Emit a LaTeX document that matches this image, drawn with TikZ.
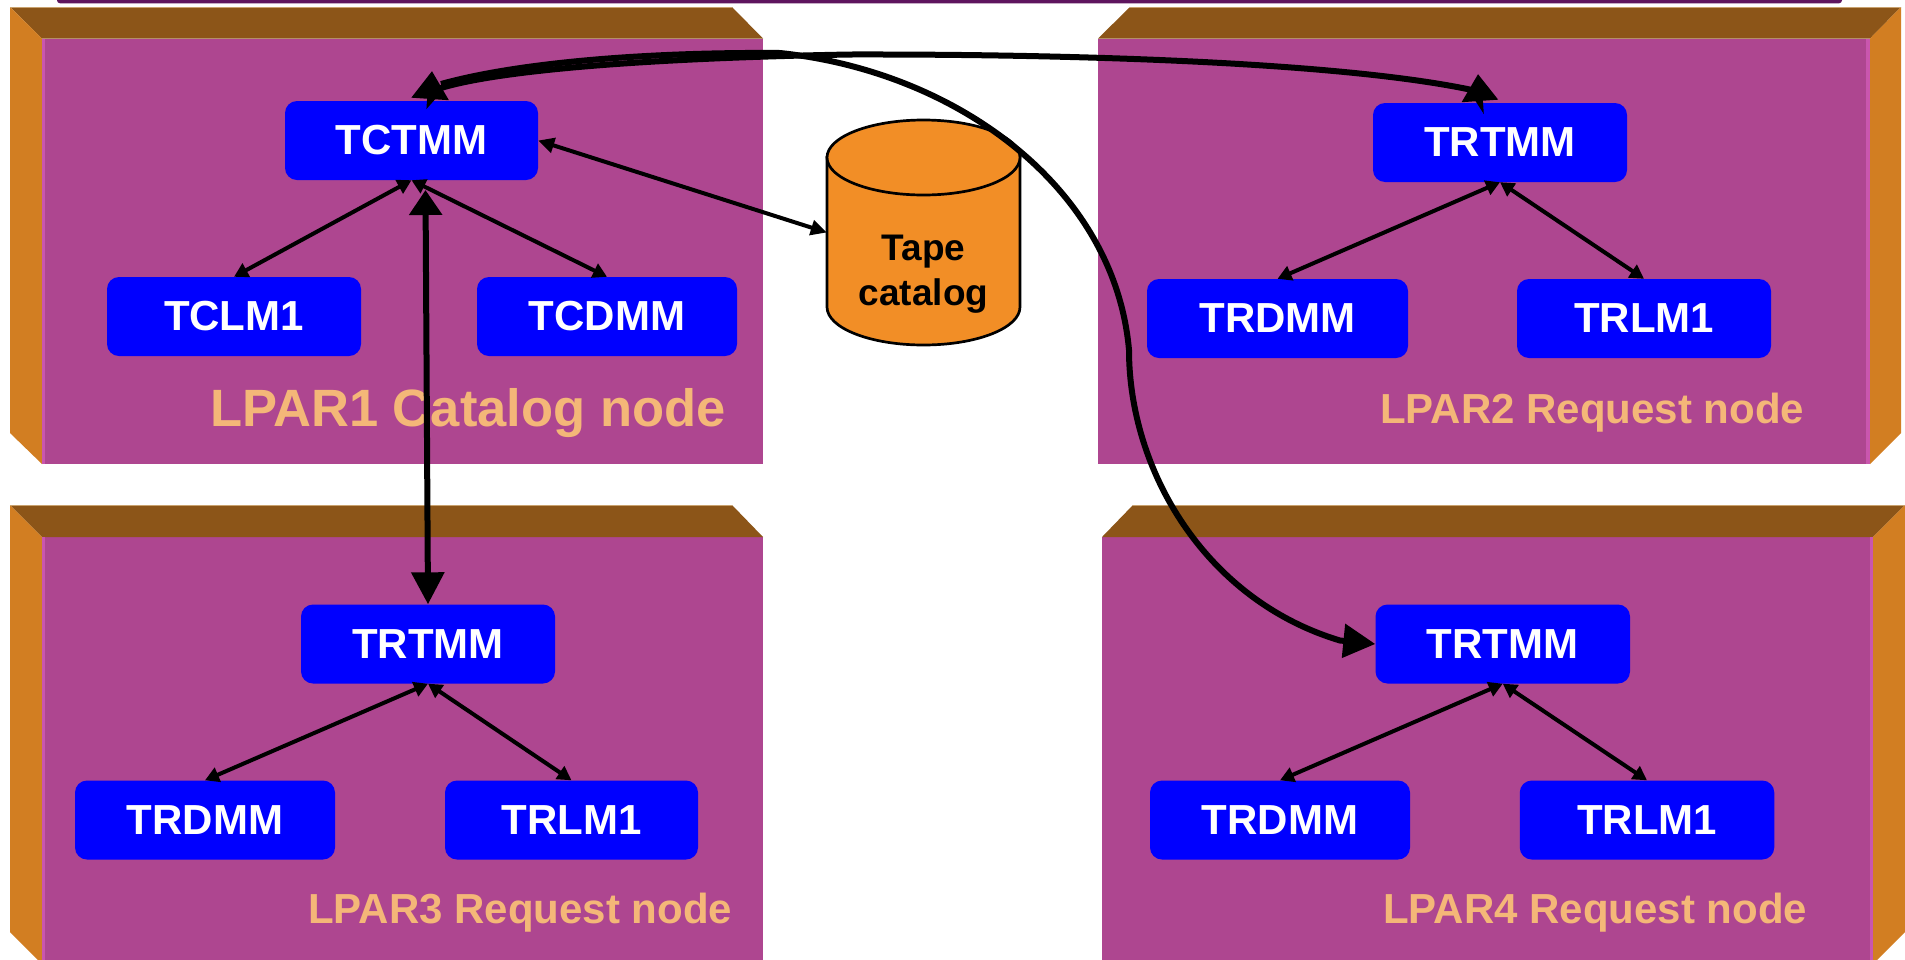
\documentclass[tikz,border=0pt]{standalone}
\usepackage{fontspec}
\setmainfont{Liberation Sans}
\usetikzlibrary{arrows.meta}
\definecolor{frontc}{HTML}{AE4690}
\definecolor{topc}{HTML}{8C5518}
\definecolor{sidec}{HTML}{D27E22}
\definecolor{stripc}{HTML}{C956AE}
\definecolor{edgec}{HTML}{C9A26E}
\definecolor{labelc}{HTML}{F4B778}
\definecolor{barc}{HTML}{5E155E}
\definecolor{cylc}{HTML}{F28E26}
\tikzset{
  x=1pt,y=-1pt,
  lparbox/.style={fill=blue,draw=none,rounded corners=12pt,inner sep=0pt,minimum height=79pt,text=white,font=\fontsize{42}{46}\selectfont\bfseries},
  smalllabel/.style={anchor=base west,inner sep=0pt,text=labelc,font=\fontsize{42}{46}\selectfont\bfseries},
  biglabel/.style={anchor=base west,inner sep=0pt,text=labelc,font=\fontsize{52.5}{56}\selectfont\bfseries},
  thinlink/.style={draw=black,line width=4pt,{Triangle[length=14pt,width=15pt]}-{Triangle[length=14pt,width=15pt]}},
  thicklink/.style={draw=black,line width=6pt},
  cylshape/.style={fill=cylc,draw=black,line width=2.7pt},
}
\begin{document}
\begin{tikzpicture}
\useasboundingbox (0,0) rectangle (1905,959);
\clip (0,0) rectangle (1905,959);
\fill[white] (0,0) rectangle (1905,959);
% top bar
\fill[barc,rounded corners=3pt] (57,-10) rectangle (1842,3.3);
% panel 1
\fill[frontc] (42,38.5) rectangle (763,464);
\fill[topc] (10,7) -- (732,7) -- (763,38.5) -- (42,38.5) -- cycle;
\fill[sidec] (10,7) -- (42,38.5) -- (42,464) -- (10,433) -- cycle;
\fill[stripc] (42,38.5) rectangle (45,464);
\draw[edgec,line width=1pt] (10,7) -- (732,7);
% panel 2
\fill[frontc] (1098,38.5) rectangle (1870,464);
\fill[topc] (1130,7) -- (1901,7) -- (1870,38.5) -- (1098,38.5) -- cycle;
\fill[sidec] (1901,7) -- (1870,38.5) -- (1870,464) -- (1901,433) -- cycle;
\fill[stripc] (1866,38.5) rectangle (1870,464);
\draw[edgec,line width=1pt] (1130,7) -- (1901,7);
% panel 3
\fill[frontc] (42,537) rectangle (763,970);
\fill[topc] (10,505) -- (732,505) -- (763,537) -- (42,537) -- cycle;
\fill[sidec] (10,505) -- (42,537) -- (42,964) -- (10,932) -- cycle;
\fill[stripc] (42,537) rectangle (45,970);
\draw[edgec,line width=1pt] (10,505) -- (732,505);
% panel 4
\fill[frontc] (1102,537) rectangle (1873,970);
\fill[topc] (1133,505) -- (1905,505) -- (1873,537) -- (1102,537) -- cycle;
\fill[sidec] (1905,505) -- (1873,537) -- (1873,964) -- (1905,932) -- cycle;
\fill[stripc] (1869.5,537) rectangle (1873,970);
\draw[edgec,line width=1pt] (1133,505) -- (1905,505);
% cylinder
\path[cylshape] (827,157.5) -- (827,307) .. controls (827,328) and (870,345) .. (923.5,345) .. controls (977,345) and (1020,328) .. (1020,307) -- (1020,157.5) -- cycle;
\path[cylshape] (923.5,157.5) ellipse [x radius=96.5pt,y radius=37.5pt];
\node[inner sep=0pt,minimum width=193pt,minimum height=225pt] (cyl) at (923.5,232.5) {};
\node[anchor=base,inner sep=0pt,text=black,font=\fontsize{37}{41}\selectfont\bfseries] (tapea) at (923.5,260) {Tape};
\node[anchor=base,inner sep=0pt,text=black,font=\fontsize{37}{41}\selectfont\bfseries] (tapeb) at (923.5,305) {catalog};
% boxes
\node[lparbox,minimum width=253pt] (tctmm) at (411.5,140.5) {TCTMM};
\node[lparbox,minimum width=254pt] (tclm)  at (234,316.5) {TCLM1};
\node[lparbox,minimum width=260pt] (tcdmm) at (607,316.5) {TCDMM};
\node[lparbox,minimum width=254pt] (btm) at (1500,142.5) {TRTMM};
\node[lparbox,minimum width=261pt] (bdm) at (1277.5,318.5) {TRDMM};
\node[lparbox,minimum width=254pt] (blm) at (1644,318.5) {TRLM1};
\node[lparbox,minimum width=254pt] (ctm) at (428,644) {TRTMM};
\node[lparbox,minimum width=260pt] (cdm) at (205,820) {TRDMM};
\node[lparbox,minimum width=253pt] (clm) at (571.5,820) {TRLM1};
\node[lparbox,minimum width=254.5pt] (dtm) at (1502.75,644) {TRTMM};
\node[lparbox,minimum width=260pt] (ddm) at (1280,820) {TRDMM};
\node[lparbox,minimum width=254.5pt] (dlm) at (1647,820) {TRLM1};
% labels
\node[biglabel] (la) at (210,426) {LPAR1 Catalog node};
\node[smalllabel] (lb) at (1380,423) {LPAR2 Request node};
\node[smalllabel] (lc) at (308,923) {LPAR3 Request node};
\node[smalllabel] (ld) at (1383,923) {LPAR4 Request node};
% thin links
\draw[thinlink] (tctmm.south) -- (tclm.north);
\draw[thinlink] (tctmm.south) -- (tcdmm.north);
\draw[thinlink] (btm.south) -- (bdm.north);
\draw[thinlink] (btm.south) -- (blm.north);
\draw[thinlink] (ctm.south) -- (cdm.north);
\draw[thinlink] (ctm.south) -- (clm.north);
\draw[thinlink] (dtm.south) -- (ddm.north);
\draw[thinlink] (dtm.south) -- (dlm.north);
\draw[draw=black,line width=4pt,{Triangle[length=16pt,width=15pt]}-{Triangle[length=16pt,width=15pt]}] (tctmm.east) -- (cyl.west);
% thick links
\coordinate (vtop) at (425.5,190);
\draw[thicklink,{Triangle[length=25pt,width=32pt]}-{Triangle[length=32pt,width=32pt]}] (vtop) -- (ctm.north);
\coordinate (aapex) at (432,71);
\coordinate (abase) at (430,100.5);
\coordinate (bapex) at (1478,74);
\coordinate (bbase) at (1480,102.5);
\draw[thicklink,{Triangle[length=28pt,width=36pt]}-{Triangle[length=27pt,width=35pt]}] (aapex) -- (abase) -- (441,88)
  .. controls (500,70) and (650,58) .. (850,54.5)
  .. controls (1100,54) and (1350,64) .. (1472,90) -- (bbase) -- (bapex);
\draw[thicklink,-{Triangle[length=32pt,width=33pt]}] (441,84)
  .. controls (520,62) and (650,52) .. (780,53)
  .. controls (960,72) and (1115,190) .. (1129,350)
  .. controls (1129,470) and (1205,600) .. (1340,640.5) -- (dtm.west);
\end{tikzpicture}
\end{document}
